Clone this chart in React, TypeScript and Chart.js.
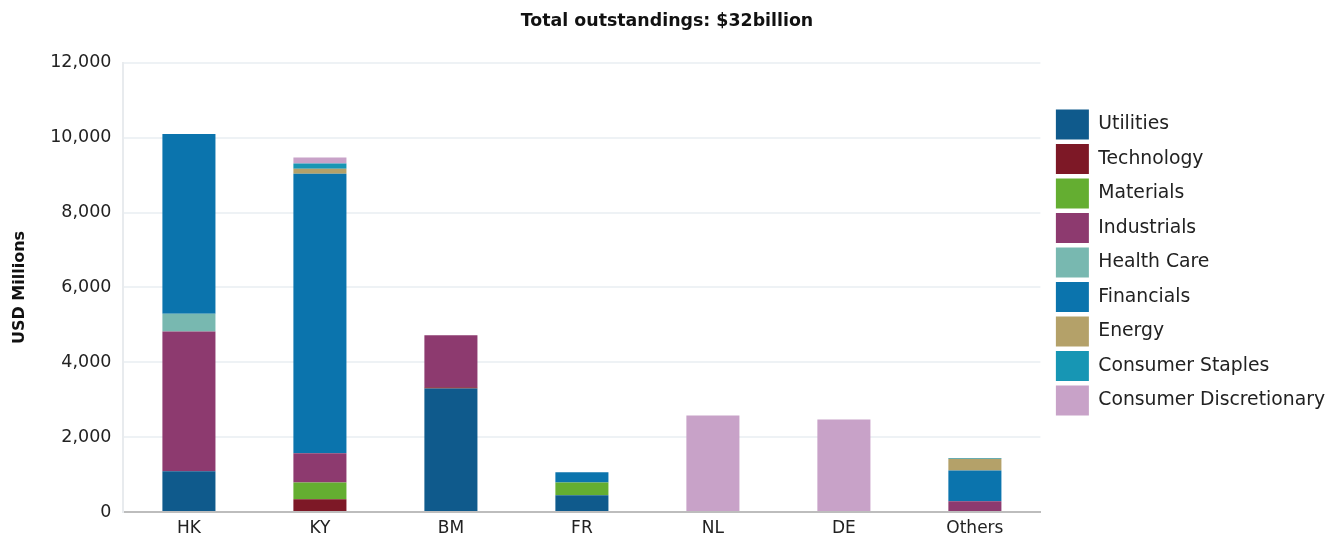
import React, { useEffect, useRef } from "react";
import { Chart, registerables } from "chart.js";

Chart.register(...registerables);

const categories = ["HK", "KY", "BM", "FR", "NL", "DE", "Others"];

const utilities = [1090, 0, 3300, 450, 0, 0, 0];
const technology = [0, 340, 30, 0, 0, 0, 0];
const materials = [0, 450, 0, 340, 0, 0, 0];
const industrials = [3730, 780, 1390, 0, 0, 0, 290];
const healthCare = [480, 0, 0, 0, 0, 0, 0];
const financials = [4800, 7470, 0, 270, 0, 0, 820];
const energy = [0, 130, 0, 0, 0, 0, 310];
const consumerStaples = [0, 140, 0, 0, 0, 0, 20];
const consumerDiscretionary = [0, 160, 0, 0, 2580, 2470, 0];

const seriesNames = [
  "Utilities",
  "Technology",
  "Materials",
  "Industrials",
  "Health Care",
  "Financials",
  "Energy",
  "Consumer Staples",
  "Consumer Discretionary",
];
const seriesColors = [
  "#0f5a8c",
  "#7d1826",
  "#64ae31",
  "#8d3a6f",
  "#78b8b0",
  "#0b74ad",
  "#b4a169",
  "#1796b4",
  "#c8a2c8",
];
const seriesValues = [
  utilities,
  technology,
  materials,
  industrials,
  healthCare,
  financials,
  energy,
  consumerStaples,
  consumerDiscretionary,
];

const yTicks = [0, 2000, 4000, 6000, 8000, 10000, 12000];
const titleText = "Total outstandings: $32billion";
const yTitle = "USD Millions";

const FONT = "'DejaVu Sans', 'Liberation Sans', Arial, sans-serif";

const legendShift = {
  id: "legendShift",
  afterLayout(chart: any) {
    const lg = chart.legend;
    if (!lg) return;
    const dy = -13;
    const dx = 11;
    lg.top += dy;
    lg.bottom += dy;
    lg.left += dx;
    lg.right += dx;
  },
};

export default function App() {
  const ref = useRef<HTMLCanvasElement | null>(null);

  useEffect(() => {
    if (!ref.current) return;
    const chart = new Chart(ref.current, {
      type: "bar",
      data: {
        labels: categories,
        datasets: seriesNames.map((name, i) => ({
          label: name,
          data: seriesValues[i],
          backgroundColor: seriesColors[i],
          borderWidth: 0,
          barPercentage: 0.405,
          categoryPercentage: 1,
        })),
      },
      plugins: [legendShift],
      options: {
        animation: false,
        responsive: true,
        maintainAspectRatio: false,
        layout: { padding: { top: 6, right: 20, bottom: 0, left: 10 } },
        plugins: {
          title: {
            display: true,
            text: titleText,
            color: "#111",
            font: { family: FONT, size: 17.4, weight: "bold" },
            padding: { top: 5, bottom: 31 },
          },
          legend: {
            position: "right",
            align: "center",
            labels: {
              boxWidth: 33,
              boxHeight: 30,
              padding: 4.5,
              color: "#222",
              font: { family: FONT, size: 18.8 },
            },
          },
          tooltip: { enabled: false },
        },
        scales: {
          x: {
            stacked: true,
            grid: { display: false, drawTicks: false },
            border: { display: true, color: "#bdbdbd", width: 2 },
            ticks: {
              color: "#222",
              font: { family: FONT, size: 17, lineHeight: 1.0 },
              padding: 8,
            },
          },
          y: {
            stacked: true,
            min: 0,
            max: 12000,
            afterBuildTicks: (axis: any) => {
              axis.ticks = yTicks.map((v) => ({ value: v }));
            },
            grid: { color: "#eef2f5", lineWidth: 2, drawTicks: false },
            border: { display: true, color: "#e8ebee", width: 2 },
            ticks: {
              color: "#222",
              font: { family: FONT, size: 17.5 },
              padding: 12,
              callback: (v: any) => Number(v).toLocaleString("en-US"),
            },
            title: {
              display: true,
              text: yTitle,
              color: "#111",
              font: { family: FONT, size: 16, weight: "bold" },
              padding: { top: 0, bottom: 9 },
            },
          },
        },
      },
    });
    return () => chart.destroy();
  }, []);

  return (
    <div style={{ position: "absolute", left: 0, top: 0, width: 1344, height: 545 }}>
      <canvas ref={ref} />
    </div>
  );
}
